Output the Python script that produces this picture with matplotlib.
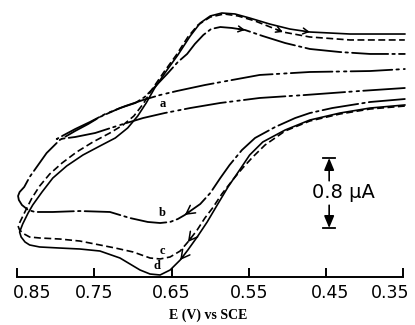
import numpy as np
import matplotlib
matplotlib.use("Agg")
import matplotlib.pyplot as plt
import matplotlib.transforms as mtransforms

plt.rcParams['lines.scale_dashes'] = False

# ---- data: potential E (V vs SCE) and current (uA, relative to the drawn axis line) ----
# curve d (solid): lower branch right->left, then upper branch left->right
E_d = [0.348, 0.393, 0.432, 0.471, 0.503, 0.532, 0.549, 0.562, 0.577, 0.591, 0.604,
       0.617, 0.629, 0.639, 0.652, 0.665, 0.678, 0.691, 0.717, 0.743, 0.769, 0.795,
       0.821, 0.834, 0.840, 0.845, 0.847,
       0.843, 0.836, 0.830, 0.818, 0.804, 0.786, 0.765, 0.743, 0.723, 0.707, 0.694,
       0.683, 0.672, 0.656, 0.642, 0.626, 0.613, 0.600, 0.585, 0.568, 0.549, 0.523,
       0.497, 0.471, 0.419, 0.348]
I_d = [1.966, 1.931, 1.874, 1.794, 1.680, 1.543, 1.394, 1.223, 1.029, 0.823, 0.629,
       0.457, 0.309, 0.194, 0.080, 0.023, 0.034, 0.080, 0.217, 0.297, 0.320, 0.331,
       0.343, 0.366, 0.400, 0.457, 0.514,
       0.606, 0.731, 0.823, 0.971, 1.131, 1.269, 1.394, 1.497, 1.589, 1.703, 1.840,
       1.989, 2.160, 2.366, 2.537, 2.754, 2.903, 2.983, 3.017, 3.006, 2.960, 2.891,
       2.834, 2.800, 2.777, 2.777]

# curve c (dashed)
E_c = [0.348, 0.393, 0.432, 0.471, 0.503, 0.529, 0.545, 0.558, 0.571, 0.585, 0.597,
       0.607, 0.617, 0.629, 0.639, 0.652, 0.665, 0.678, 0.700, 0.723, 0.743, 0.769,
       0.795, 0.821, 0.834, 0.841, 0.847, 0.849,
       0.844, 0.837, 0.831, 0.821, 0.808, 0.792, 0.773, 0.752, 0.730, 0.713, 0.699,
       0.687, 0.676, 0.660, 0.644, 0.629, 0.616, 0.600, 0.582, 0.564, 0.542, 0.506,
       0.471, 0.419, 0.348]
I_c = [1.954, 1.920, 1.863, 1.783, 1.669, 1.509, 1.371, 1.246, 1.109, 0.949, 0.789,
       0.674, 0.537, 0.400, 0.297, 0.229, 0.206, 0.217, 0.286, 0.331, 0.366, 0.411,
       0.434, 0.446, 0.457, 0.491, 0.537, 0.583,
       0.674, 0.800, 0.903, 1.040, 1.177, 1.303, 1.429, 1.543, 1.646, 1.737, 1.840,
       1.977, 2.137, 2.343, 2.537, 2.743, 2.880, 2.971, 3.006, 2.983, 2.926, 2.800,
       2.743, 2.709, 2.709]

# curve b (dash-dot)
E_b = [0.348, 0.393, 0.442, 0.471, 0.490, 0.516, 0.542, 0.559, 0.575, 0.587, 0.600,
       0.613, 0.624, 0.633, 0.642, 0.652, 0.665, 0.681, 0.704, 0.730, 0.769, 0.804,
       0.827, 0.836, 0.844, 0.848, 0.849,
       0.847, 0.841, 0.834, 0.823, 0.812, 0.795, 0.775, 0.758, 0.743, 0.717, 0.697,
       0.685, 0.672, 0.656, 0.642, 0.630, 0.620, 0.609, 0.599, 0.587, 0.572, 0.555,
       0.532, 0.503, 0.471, 0.432, 0.393, 0.348]
I_b = [2.034, 2.000, 1.931, 1.874, 1.817, 1.714, 1.589, 1.451, 1.280, 1.131, 0.960,
       0.834, 0.766, 0.709, 0.663, 0.629, 0.617, 0.629, 0.674, 0.743, 0.754, 0.743,
       0.743, 0.766, 0.823, 0.880, 0.926,
       0.971, 1.029, 1.143, 1.280, 1.417, 1.566, 1.669, 1.749, 1.829, 1.931, 1.989,
       2.057, 2.171, 2.320, 2.457, 2.549, 2.663, 2.766, 2.834, 2.857, 2.846, 2.823,
       2.754, 2.674, 2.606, 2.571, 2.549, 2.549]

# curve a (dash-dot-dot)
E_a = [0.348, 0.406, 0.477, 0.536, 0.587, 0.626, 0.659, 0.687, 0.717, 0.749, 0.775,
       0.795, 0.799,
       0.792, 0.775, 0.756, 0.736, 0.710, 0.687, 0.665, 0.643, 0.607, 0.572, 0.536,
       0.471, 0.393, 0.348]
I_a = [2.160, 2.126, 2.080, 2.046, 1.989, 1.931, 1.874, 1.817, 1.737, 1.646, 1.600,
       1.577, 1.577,
       1.611, 1.691, 1.771, 1.863, 1.954, 2.023, 2.080, 2.126, 2.194, 2.251, 2.309,
       2.343, 2.354, 2.377]

tick_values = [0.85, 0.75, 0.65, 0.55, 0.45, 0.35]
tick_labels = ["0.85", "0.75", "0.65", "0.55", "0.45", "0.35"]
scale_uA = 0.8

fig = plt.figure(figsize=(4.15, 3.25), dpi=100)
ax = fig.add_axes([0, 0, 1, 1])
ax.set_xlim(0.8724, 0.3348)
ax.set_ylim(-0.5486, 3.1657)

lw = 1.2
ax.plot(E_d, I_d, color='black', lw=lw, solid_joinstyle='round')
ax.plot(E_c, I_c, color='black', lw=lw, linestyle=(0, (5.0, 2.5)))
ax.plot(E_b, I_b, color='black', lw=lw + 0.1, linestyle=(0, (26, 3, 1.8, 3)),
        dash_capstyle='round')
ax.plot(E_a, I_a, color='black', lw=lw + 0.1, linestyle=(0, (30, 3, 1.8, 3.5, 1.8, 3)),
        dash_capstyle='round')

def arrow_on(E, I, i, frac=0.35, scale=11):
    x1, y1 = E[i], I[i]
    x0 = x1 + frac * (E[i - 1] - x1)
    y0 = y1 + frac * (I[i - 1] - y1)
    ax.annotate('', xy=(x1, y1), xytext=(x0, y0),
                arrowprops=dict(arrowstyle='->,head_length=0.55,head_width=0.3',
                                lw=1.1, color='black', mutation_scale=scale,
                                shrinkA=0, shrinkB=0))

# direction arrows on the lower (return) branches
arrow_on(E_b, I_b, 13, frac=0.6)
arrow_on(E_c, I_c, 13)
arrow_on(E_d, I_d, 13)
# small arrows on the upper branches
arrow_on(E_d, I_d, 50, frac=0.2, scale=7)
arrow_on(E_c, I_c, 49, frac=0.2, scale=7)
arrow_on(E_b, I_b, 48, frac=0.5, scale=7)

# curve letters
lab_kw = dict(fontfamily='Liberation Serif', fontweight='bold', fontsize=9,
              ha='center', va='center')
ax.text(0.662, 1.977, 'a', **lab_kw)
ax.text(0.662, 0.731, 'b', **lab_kw)
ax.text(0.662, 0.300, 'c', **lab_kw)
ax.text(0.669, 0.125, 'd', **lab_kw)

# scale bar 0.8 uA
xb = 0.446
bot = 0.56
top = bot + scale_uA
cap = 0.0078
ax.plot([xb - cap, xb + cap], [top, top], color='black', lw=1.3)
ax.plot([xb - cap, xb + cap], [bot, bot], color='black', lw=1.3)
ax.annotate('', xy=(xb, top), xytext=(xb, 1.10),
            arrowprops=dict(arrowstyle='-|>,head_length=0.6,head_width=0.25', lw=1.2,
                            color='black', mutation_scale=12, shrinkA=0, shrinkB=0))
ax.annotate('', xy=(xb, bot), xytext=(xb, 0.82),
            arrowprops=dict(arrowstyle='-|>,head_length=0.6,head_width=0.25', lw=1.2,
                            color='black', mutation_scale=12, shrinkA=0, shrinkB=0))
ax.text(0.428, 0.96, '0.8 \u03bcA', fontsize=14, ha='center', va='center',
        fontfamily='DejaVu Sans', color='black')

# axis
for s in ['top', 'left', 'right']:
    ax.spines[s].set_visible(False)
ax.spines['bottom'].set_position(('data', 0))
ax.spines['bottom'].set_bounds(0.35, 0.85)
ax.spines['bottom'].set_linewidth(1.4)
ax.set_yticks([])
ax.set_xticks(tick_values)
ax.set_xticklabels(tick_labels)
ax.tick_params(axis='x', direction='in', length=6.5, width=1.4, pad=5,
               labelsize=12.5, colors='black')
shifts = {"0.85": 15, "0.45": 4, "0.35": -13}
for lbl in ax.get_xticklabels():
    dx = shifts.get(lbl.get_text(), 0)
    if dx:
        lbl.set_transform(lbl.get_transform() +
                          mtransforms.ScaledTranslation(dx / 100, 0, fig.dpi_scale_trans))

ax.text(0.603, -0.434, 'E (V) vs SCE', fontfamily='Liberation Serif', fontweight='bold',
        fontsize=10, ha='center', va='center')

fig.savefig('out.png', dpi=100, facecolor='white')
